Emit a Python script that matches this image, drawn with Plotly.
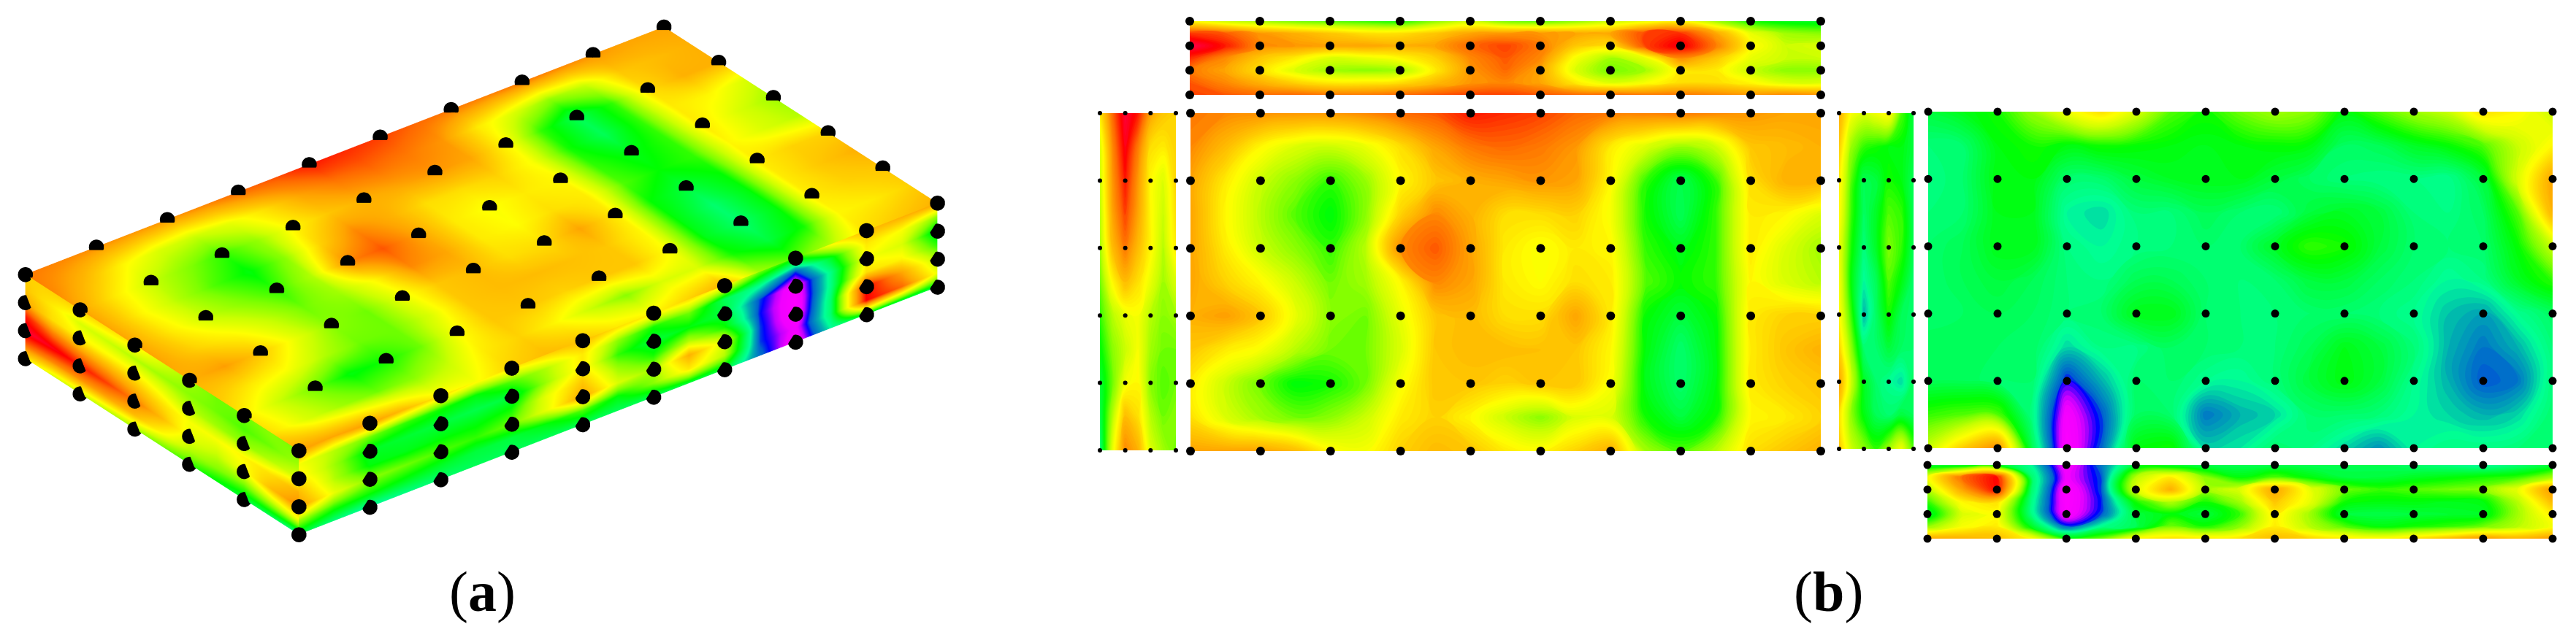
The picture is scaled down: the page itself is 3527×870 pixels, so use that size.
import plotly.graph_objects as go
import math

W, H = 3527, 870

# Colour index: 0 magenta ... 35 green ... 57 yellow ... 90 red
MAIN = [
 [78,76,75,74,74,76,80,82,88,86,84,80,78,77,78,76,74,72,72],
 [76,68,58,52,50,54,62,72,78,80,78,74,60,52,45,50,66,68,70],
 [72,60,50,44,38,45,58,66,70,72,74,72,58,38,28,38,62,70,70],
 [72,58,48,40,34,44,64,76,70,62,62,64,56,36,28,38,60,58,52],
 [72,60,50,44,38,48,76,82,72,60,56,60,58,38,33,38,60,52,46],
 [72,64,58,50,42,46,58,76,72,60,57,62,60,40,35,38,58,52,48],
 [70,73,66,54,44,42,54,66,68,62,62,72,60,35,30,35,60,64,64],
 [66,60,56,48,42,42,52,66,68,68,67,66,58,34,26,34,60,66,70],
 [60,50,42,34,36,42,56,66,66,64,66,66,56,33,26,34,60,64,66],
 [62,52,46,42,44,50,60,64,58,50,44,52,52,36,30,36,58,60,64],
 [72,72,72,68,58,56,64,68,66,60,58,64,70,46,40,48,62,66,70],
]
BOTTOM = [
 [30,33,36,45,55,62,52,40,36,42,46,44,34,40,46,50,62,58,50],
 [25,26,34,36,34,36,35,34,33,34,35,34,27,28,32,35,40,50,58],
 [24,26,34,34,26,26,30,32,33,33,30,27,25,24,24,23,30,52,72],
 [25,26,33,33,22,20,25,25,28,26,25,30,32,30,25,24,27,40,70],
 [26,28,33,33,24,22,24,25,26,26,32,38,36,30,26,25,26,35,50],
 [26,28,30,28,25,24,28,28,26,25,26,30,30,27,25,22,24,32,38],
 [26,27,28,27,25,26,33,33,26,25,25,26,26,25,23,19,17,23,27],
 [28,28,27,27,20,24,24,27,26,25,25,28,33,30,25,18,14,18,25],
 [28,28,26,26,10,18,26,26,23,22,25,30,34,30,23,18,12,14,25],
 [38,40,40,24,3,12,27,26,14,18,20,26,26,25,22,20,18,20,26],
 [50,65,76,28,1,13,34,36,20,21,26,24,20,16,22,24,24,25,26],
]
LEFT = [
 [60,80,95,88,72,66,64],
 [52,76,92,78,62,60,64],
 [50,74,88,74,58,52,64],
 [48,72,84,72,58,50,62],
 [46,68,78,68,58,48,60],
 [42,58,68,62,54,46,52],
 [38,48,54,56,48,44,46],
 [34,44,50,56,46,42,42],
 [30,42,55,58,44,40,42],
 [28,48,68,62,48,42,44],
 [24,54,76,70,52,46,42],
]
RIGHT = [
 [70,56,52,55,58,40,30],
 [65,45,38,36,34,34,30],
 [60,40,28,30,36,34,28],
 [58,38,27,32,40,38,28],
 [55,36,25,32,43,38,28],
 [56,34,22,28,40,34,26],
 [58,38,18,27,36,28,26],
 [64,44,26,26,30,27,26],
 [72,50,32,26,23,20,28],
 [62,44,34,28,26,30,28],
 [66,50,44,38,46,55,40],
]
TOP_STRIP = [
 [58,50,46,42,40,38,36,44,50,42,40,44,50,54,58,46,36,33,32],
 [85,82,74,70,66,62,62,66,72,74,74,72,72,84,86,72,54,46,44],
 [97,88,76,74,72,72,70,72,80,84,78,66,62,84,92,78,58,50,52],
 [86,76,66,60,52,54,58,64,76,82,76,56,46,54,76,66,54,50,50],
 [78,72,62,52,46,44,46,60,74,80,72,52,42,46,60,60,50,44,44],
 [82,76,70,64,60,60,62,68,74,76,72,60,52,56,62,62,58,52,52],
 [84,82,80,80,78,78,80,82,84,84,82,80,80,78,78,76,74,76,74],
]
BOTTOM_STRIP = [
 [30,30,32,22,2,14,30,30,28,28,28,28,28,28,26,24,22,25,30],
 [55,80,90,26,4,12,48,60,44,34,40,34,30,30,32,34,36,38,46],
 [48,72,90,26,1,12,52,70,46,52,72,54,42,38,40,42,44,54,74],
 [38,58,62,24,1,11,36,48,36,46,66,54,36,34,34,33,34,48,68],
 [30,52,56,24,2,12,30,34,30,38,60,46,30,29,30,31,32,46,60],
 [44,56,60,32,12,23,28,42,36,44,60,48,40,34,36,38,42,48,56],
 [72,70,68,58,36,42,58,62,60,62,68,64,60,58,62,68,74,70,74],
]

LONG_NODES = [0, 1, 2, 3, 4, 5, 6, 7, 8, 9]
SHORT_NODES = [0, 1, 2, 3, 4, 5]
DEPTH_NODES = [0, 1, 2, 3]

COLORSCALE = [
 [0.00, "#ff00ff"], [0.05, "#f000ff"], [0.07, "#c000ff"], [0.09, "#5000ff"],
 [0.105, "#0000ff"], [0.125, "#0060d0"],
 [0.18, "#00b0b0"], [0.22, "#00ff99"], [0.27, "#00ff60"], [0.35, "#00ff00"],
 [0.43, "#80ff00"], [0.50, "#ccff00"], [0.57, "#ffff00"], [0.65, "#ffcc00"],
 [0.72, "#ffa500"], [0.80, "#ff6a00"], [0.90, "#ff0000"], [1.00, "#ff0070"],
]

def half_steps(nodes):
    return [nodes[0] + i / 2 for i in range(2 * (len(nodes) - 1) + 1)]

fig = go.Figure()

# ---------- (b): unfolded faces, each on its own pair of axes ----------
# name, values, column nodes, row nodes, pixel box (l, t, r, b), dot size
PANELS = [
 ("top",   TOP_STRIP,    LONG_NODES,  DEPTH_NODES, (1629, 29, 2493, 130), 12),
 ("main",  MAIN,         LONG_NODES,  SHORT_NODES, (1630, 155, 2493, 618), 12),
 ("left",  LEFT,         DEPTH_NODES, SHORT_NODES, (1506, 155, 1610, 617), 6),
 ("right", RIGHT,        DEPTH_NODES, SHORT_NODES, (2518, 155, 2620, 615), 6),
 ("base",  BOTTOM,       LONG_NODES,  SHORT_NODES, (2640, 153, 3495, 614), 11),
 ("strip", BOTTOM_STRIP, LONG_NODES,  DEPTH_NODES, (2639, 637, 3495, 738), 11),
]
for k, (name, vals, cols, rows, box, ds) in enumerate(PANELS, start=1):
    l, t, r, b = box
    sx = "" if k == 1 else str(k)
    xc, yc = half_steps(cols), half_steps(rows)
    fig.add_trace(go.Contour(
        z=vals, x=xc, y=yc, xaxis="x" + sx, yaxis="y" + sx, name=name,
        colorscale=COLORSCALE, zmin=0, zmax=100, showscale=False,
        contours=dict(start=0, end=100, size=1, coloring="fill", showlines=False),
        line=dict(width=0, smoothing=1.3), hoverinfo="skip"))
    dx = [c for _ in rows for c in cols]
    dy = [v for v in rows for _ in cols]
    fig.add_trace(go.Scatter(
        x=dx, y=dy, xaxis="x" + sx, yaxis="y" + sx, mode="markers",
        marker=dict(color="black", size=ds), cliponaxis=False,
        showlegend=False, hoverinfo="skip"))
    ax = dict(visible=False, fixedrange=True)
    fig.layout["xaxis" + sx] = dict(ax, domain=[l / W, r / W], range=[cols[0], cols[-1]],
                                    anchor="y" + sx)
    fig.layout["yaxis" + sx] = dict(ax, domain=[1 - b / H, 1 - t / H], range=[rows[-1], rows[0]],
                                    anchor="x" + sx)

# ---------- (a): the same faces folded into a box ----------
ANG = math.atan2(679, 875)
ELEV = math.radians(30)
R = 2.0
KS = 2.60
PAD = 0.3
UNIT = (1.107 * KS / 9, 0.611 * KS / 5, 0.133 * KS / 3)   # scene size of one node step
EYE = (-math.cos(ELEV) * math.sin(ANG), -math.cos(ELEV) * math.cos(ANG), math.sin(ELEV))

xs, ys, zs = half_steps(LONG_NODES), half_steps(SHORT_NODES), half_steps(DEPTH_NODES)
surf = dict(colorscale=COLORSCALE, cmin=0, cmax=100, showscale=False, hoverinfo="skip",
            lighting=dict(ambient=1, diffuse=0, specular=0, roughness=1, fresnel=0),
            scene="scene")
fig.add_trace(go.Surface(
    x=[xs for _ in ys], y=[[5 - v] * len(xs) for v in ys], z=[[3] * len(xs) for _ in ys],
    surfacecolor=MAIN, **surf))
fig.add_trace(go.Surface(
    x=[[9 - v for v in xs] for _ in zs], y=[[0] * len(xs) for _ in zs], z=[[v] * len(xs) for v in zs],
    surfacecolor=BOTTOM_STRIP, **surf))
fig.add_trace(go.Surface(
    x=[[0] * len(zs) for _ in ys], y=[[5 - v] * len(zs) for v in ys], z=[zs for _ in ys],
    surfacecolor=LEFT, **surf))

px, py, pz = [], [], []
for j in SHORT_NODES:
    for i in LONG_NODES:
        px.append(i); py.append(5 - j); pz.append(3)
for k_ in DEPTH_NODES[:-1]:
    for i in LONG_NODES:
        px.append(i); py.append(0); pz.append(k_)
    for j in SHORT_NODES[:-1]:
        px.append(0); py.append(5 - j); pz.append(k_)
# dots sit a hair in front of the faces along the line of sight, so they stay on the same screen spot
LIFT = 0.02
fig.add_trace(go.Scatter3d(
    x=[v + LIFT * EYE[0] / UNIT[0] for v in px],
    y=[v + LIFT * EYE[1] / UNIT[1] for v in py],
    z=[v + LIFT * EYE[2] / UNIT[2] for v in pz],
    mode="markers", scene="scene",
    marker=dict(color="black", size=12, line=dict(width=0)),
    showlegend=False, hoverinfo="skip"))

axis3d = dict(visible=False, showgrid=False, zeroline=False, showbackground=False)
fig.update_layout(
    width=W, height=H, autosize=False, margin=dict(l=0, r=0, t=0, b=0),
    paper_bgcolor="white", plot_bgcolor="white", showlegend=False,
    font=dict(family="Liberation Serif", color="black"),
    scene=dict(
        domain=dict(x=[0, 1318 / W], y=[1 - 769 / H, 1]),
        xaxis=dict(axis3d, range=[-PAD, 9 + PAD]),
        yaxis=dict(axis3d, range=[-PAD, 5 + PAD]),
        zaxis=dict(axis3d, range=[-PAD, 3 + PAD]),
        aspectmode="manual",
        aspectratio=dict(x=UNIT[0] * (9 + 2 * PAD), y=UNIT[1] * (5 + 2 * PAD), z=UNIT[2] * (3 + 2 * PAD)),
        camera=dict(projection=dict(type="orthographic"), up=dict(x=0, y=0, z=1),
                    center=dict(x=0, y=0, z=0),
                    eye=dict(x=R * EYE[0], y=R * EYE[1], z=R * EYE[2])),
    ),
    annotations=[
        dict(text="(<b>a</b>)", x=660 / W, y=1 - 810 / H, xref="paper", yref="paper",
             xanchor="center", yanchor="middle", showarrow=False,
             font=dict(size=78, family="Liberation Serif", color="black")),
        dict(text="(<b>b</b>)", x=2503 / W, y=1 - 810 / H, xref="paper", yref="paper",
             xanchor="center", yanchor="middle", showarrow=False,
             font=dict(size=78, family="Liberation Serif", color="black")),
    ],
)
fig.write_html("out.html", config=dict(displayModeBar=False),
               post_script="document.body.style.margin='0';")
